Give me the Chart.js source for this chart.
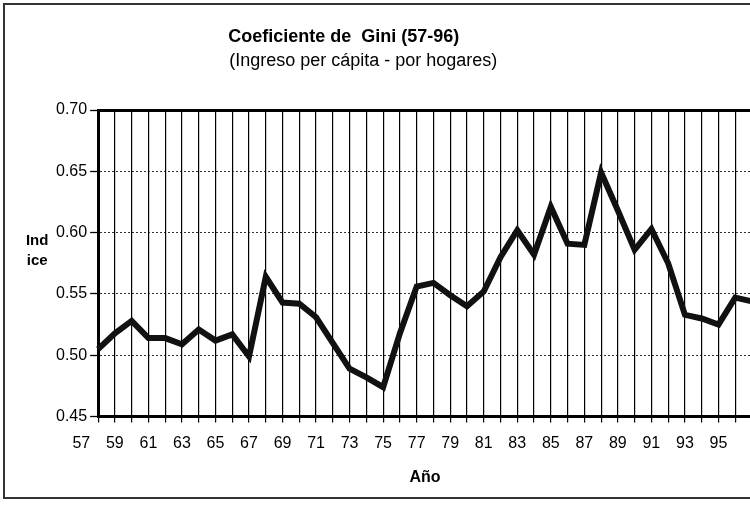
<!DOCTYPE html>
<html>
<head>
<meta charset="utf-8">
<script src="https://cdn.jsdelivr.net/npm/chart.js@4/dist/chart.umd.min.js"></script>
<style>
  html, body { margin: 0; padding: 0; background: #fff; }
  #wrap { position: relative; width: 750px; height: 505px; overflow: hidden; background: #fff; }
  #frame { position: absolute; left: 3px; top: 3px; width: 820px; height: 492px; border: 2px solid #333; pointer-events: none; }
  canvas { position: absolute; left: 0; top: 0; }
</style>
</head>
<body>
<div id="wrap">
  <canvas id="c" width="770" height="505"></canvas>
  <div id="frame"></div>
</div>
<script>
// ---- data ----
const years = ['57','58','59','60','61','62','63','64','65','66',
               '67','68','69','70','71','72','73','74','75','76',
               '77','78','79','80','81','82','83','84','85','86',
               '87','88','89','90','91','92','93','94','95','96'];
const gini = [0.505, 0.518, 0.528, 0.514, 0.514, 0.509, 0.521, 0.512, 0.517, 0.499,
              0.564, 0.543, 0.542, 0.531, 0.510, 0.489, 0.482, 0.474, 0.518, 0.556,
              0.559, 0.549, 0.540, 0.552, 0.580, 0.602, 0.582, 0.621, 0.591, 0.590,
              0.649, 0.618, 0.586, 0.603, 0.575, 0.533, 0.530, 0.525, 0.547, 0.544];
const titleText = 'Coeficiente de  Gini (57-96)';
const subtitleText = '(Ingreso per cápita - por hogares)';
const yTitleLines = ['Ind', 'ice'];
const xTitleText = 'Año';
const yMin = 0.45, yMax = 0.70, yStep = 0.05;

const FONT = "'Liberation Sans', Arial, Helvetica, sans-serif";

const textPlugin = {
  id: 'texts',
  afterDraw(chart) {
    const ctx = chart.ctx;
    const area = chart.chartArea;
    ctx.save();
    ctx.fillStyle = '#000';
    ctx.textAlign = 'left';
    ctx.textBaseline = 'middle';
    ctx.font = 'bold 18px ' + FONT;
    ctx.fillText(titleText, area.left + 130, 37);
    ctx.font = '18px ' + FONT;
    ctx.fillText(subtitleText, area.left + 131, 61);
    // y-axis title, horizontal, two lines
    ctx.font = 'bold 15px ' + FONT;
    ctx.textAlign = 'center';
    const yx = area.left - 61;
    ctx.fillText(yTitleLines[0], yx, area.top + 131);
    ctx.fillText(yTitleLines[1], yx, area.top + 151);
    ctx.restore();
  }
};

new Chart(document.getElementById('c'), {
  type: 'line',
  data: {
    labels: years,
    datasets: [{
      data: gini,
      borderColor: '#111',
      borderWidth: 6,
      pointRadius: 0,
      pointHoverRadius: 0,
      tension: 0,
      fill: false,
      borderJoinStyle: 'miter',
      clip: 3
    }]
  },
  options: {
    responsive: false,
    animation: false,
    events: [],
    layout: { padding: { left: 53, right: 18, top: 110, bottom: 18 } },
    plugins: { legend: { display: false }, tooltip: { enabled: false }, title: { display: false } },
    scales: {
      x: {
        type: 'category',
        offset: false,
        grid: { color: '#000', lineWidth: 1.2, tickLength: 6, tickWidth: 1.2 },
        border: { color: '#000', width: 3 },
        ticks: {
          autoSkip: false, maxRotation: 0, minRotation: 0,
          color: '#000', padding: 11, labelOffset: -16.8,
          font: { family: FONT, size: 16 },
          callback: function (v, i) { return i % 2 === 0 ? this.getLabelForValue(v) : ''; }
        },
        title: { display: true, text: xTitleText, color: '#000',
                 font: { family: FONT, size: 16, weight: 'bold' }, padding: { top: 4, bottom: 0 } }
      },
      x2: {
        type: 'linear', position: 'top', min: 0, max: 1,
        grid: { display: false, drawTicks: false },
        ticks: { display: false },
        border: { color: '#000', width: 3 }
      },
      y: {
        min: yMin, max: yMax,
        grid: { color: 'rgba(0,0,0,0.8)', lineWidth: 1, tickLength: 8, tickColor: '#000', tickWidth: 1.3 },
        border: { color: '#000', width: 3, dash: [2, 2] },
        ticks: {
          stepSize: yStep, color: '#000', padding: 3,
          font: { family: FONT, size: 16 },
          callback: (v) => Number(v).toFixed(2)
        }
      }
    }
  },
  plugins: [textPlugin]
});
</script>
</body>
</html>
